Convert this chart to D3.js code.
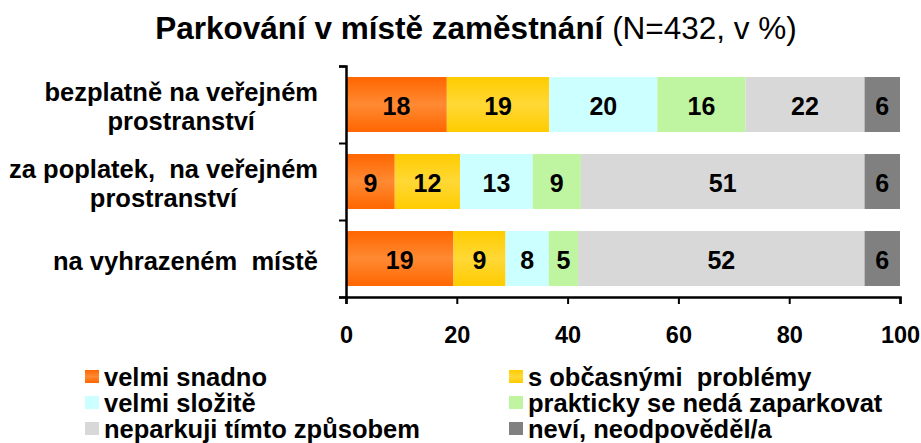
<!DOCTYPE html>
<html>
<head>
<meta charset="utf-8">
<script src="https://cdn.jsdelivr.net/npm/d3@7"></script>
<style>
body { margin: 0; background: #fff; }
text { font-family: "Liberation Sans", Arial, sans-serif; }
</style>
</head>
<body>
<div id="chart"></div>
<script>
// categories, top to bottom (lines of each label)
var categories = ["bezplatně na veřejném prostranství", "za poplatek, na veřejném prostranství", "na vyhrazeném místě"];
var categoryLines = [
    ["bezplatně na veřejném", "prostranství"],
    ["za poplatek,  na veřejném", "prostranství"],
    ["na vyhrazeném  místě"]
];

var seriesNames = ["velmi snadno", "s občasnými  problémy", "velmi složitě",
    "prakticky se nedá zaparkovat", "neparkuji tímto způsobem", "neví, neodpověděl/a"];

// share per series, one value per category
var velmiSnadno = [18.2, 8.8, 19.4];
var obcasne = [18.5, 11.8, 9.4];
var slozite = [19.5, 13.1, 7.8];
var nelze = [15.9, 8.7, 5.3];
var neparkuji = [21.5, 51.2, 51.7];
var nevi = [6.4, 6.4, 6.4];
var seriesValues = [velmiSnadno, obcasne, slozite, nelze, neparkuji, nevi];

var xTicks = [0, 20, 40, 60, 80, 100];

var colors = ["url(#gOrange)", "url(#gYellow)", "#ccffff", "#bff4a0", "#d8d8d8", "#808080"];

var W = 921, H = 443;
var margin = { top: 66, left: 346, right: 21, bottom: 146 };
var width = W - margin.left - margin.right;
var height = H - margin.top - margin.bottom;

var svg = d3.select("#chart").append("svg")
    .attr("width", W)
    .attr("height", H);

// vertical gradients for the orange and yellow fills
var defs = svg.append("defs");
function addGradient(id, edge, mid) {
    var g = defs.append("linearGradient").attr("id", id)
        .attr("x1", 0).attr("y1", 0).attr("x2", 0).attr("y2", 1);
    g.append("stop").attr("offset", "0%").attr("stop-color", edge);
    g.append("stop").attr("offset", "50%").attr("stop-color", mid);
    g.append("stop").attr("offset", "100%").attr("stop-color", edge);
}
addGradient("gOrange", "#ff6600", "#ff8a33");
addGradient("gYellow", "#ffcc00", "#ffd836");

// title
var title = svg.append("text")
    .attr("x", 476)
    .attr("y", 39)
    .attr("text-anchor", "middle")
    .style("font-size", "31.5px");
title.append("tspan").style("font-weight", "bold").text("Parkování v místě zaměstnání");
title.append("tspan").text(" (N=432, v %)");

var g = svg.append("g")
    .attr("transform", "translate(" + margin.left + "," + margin.top + ")");

var x = d3.scaleLinear().domain([0, 100]).range([0, width]);
var y = d3.scaleBand().domain(categories).range([0, height])
    .paddingInner(0.286).paddingOuter(0.143);

// stack the series
var rows = categories.map(function (c, i) {
    var r = { cat: c };
    seriesNames.forEach(function (s, j) { r[s] = seriesValues[j][i]; });
    return r;
});
var stacked = d3.stack().keys(seriesNames)(rows);

var layer = g.selectAll(".layer")
    .data(stacked)
    .enter().append("g")
    .attr("class", "layer")
    .attr("fill", function (d, i) { return colors[i]; });

layer.selectAll("rect")
    .data(function (d) { return d; })
    .enter().append("rect")
    .attr("x", function (d) { return x(d[0]); })
    .attr("width", function (d) { return x(d[1]) - x(d[0]); })
    .attr("y", function (d) { return y(d.data.cat); })
    .attr("height", y.bandwidth());

layer.selectAll("text")
    .data(function (d) { return d; })
    .enter().append("text")
    .attr("x", function (d) { return (x(d[0]) + x(d[1])) / 2; })
    .attr("y", function (d) { return y(d.data.cat) + y.bandwidth() / 2 + 1; })
    .attr("text-anchor", "middle")
    .attr("dominant-baseline", "central")
    .attr("fill", "#000")
    .style("font-size", "25px")
    .style("font-weight", "bold")
    .text(function (d) { return Math.round(d[1] - d[0]); });

// x axis
var xAxis = g.append("g")
    .attr("transform", "translate(0," + height + ")")
    .call(d3.axisBottom(x).tickValues(xTicks).tickSize(7).tickPadding(22));
xAxis.select(".domain").attr("stroke-width", 2.5);
xAxis.selectAll(".tick line").attr("stroke-width", 2);
xAxis.selectAll(".tick text")
    .style("font-size", "23.5px")
    .style("font-weight", "bold")
    .style("font-family", "'Liberation Sans', Arial, sans-serif");

// y axis with ticks between the categories
var yEdge = d3.scaleLinear().domain([0, categories.length]).range([0, height]);
var yAxis = g.append("g")
    .call(d3.axisLeft(yEdge).ticks(categories.length).tickSize(7).tickFormat(""));
yAxis.select(".domain").attr("stroke-width", 2.5);
yAxis.selectAll(".tick line").attr("stroke-width", 2);

// category labels: centred lines, block right-aligned
categories.forEach(function (c, i) {
    var lines = categoryLines[i];
    var cy = margin.top + y(c) + y.bandwidth() / 2 + 2;
    var lineH = 29;
    var t = svg.append("text")
        .attr("text-anchor", "middle")
        .attr("dominant-baseline", "central")
        .style("font-size", "25.5px")
        .style("font-weight", "bold")
        .style("white-space", "pre");
    var spans = lines.map(function (l, k) {
        return t.append("tspan")
            .attr("y", cy + (k - (lines.length - 1) / 2) * lineH)
            .text(l);
    });
    var maxW = d3.max(spans, function (s) { return s.node().getComputedTextLength(); });
    var cx = 318 - maxW / 2;
    spans.forEach(function (s) { s.attr("x", cx); });
});

// legend
var legendX = [85, 509];
var legendY = [377, 403, 429];
var legend = svg.selectAll(".legend")
    .data(seriesNames)
    .enter().append("g")
    .attr("class", "legend")
    .attr("transform", function (d, i) {
        return "translate(" + legendX[i % 2] + "," + legendY[Math.floor(i / 2)] + ")";
    });
legend.append("rect")
    .attr("x", 0).attr("y", -7)
    .attr("width", 14).attr("height", 13)
    .attr("fill", function (d, i) { return colors[i]; });
legend.append("text")
    .attr("x", 19)
    .attr("y", 0)
    .attr("dominant-baseline", "central")
    .style("font-size", "25.5px")
    .style("font-weight", "bold")
    .style("white-space", "pre")
    .text(function (d) { return d; });
</script>
</body>
</html>
